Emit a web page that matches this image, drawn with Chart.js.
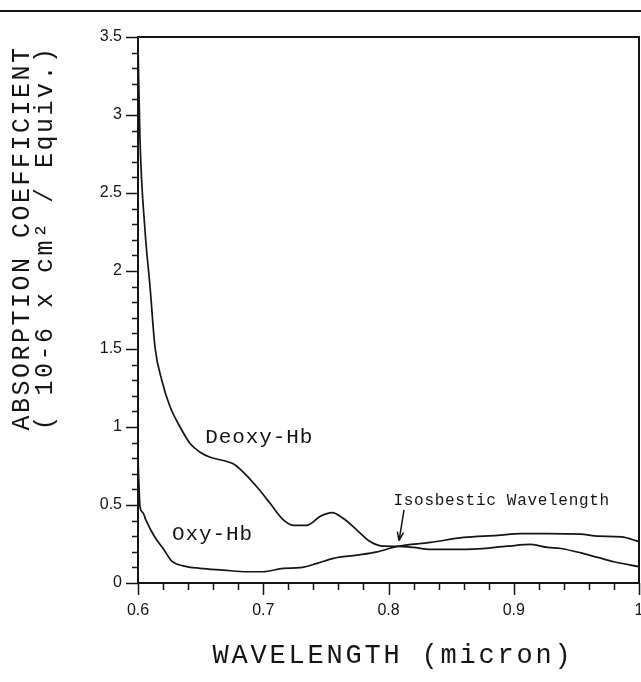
<!DOCTYPE html>
<html>
<head>
<meta charset="utf-8">
<script src="https://cdn.jsdelivr.net/npm/chart.js@4.4.1/dist/chart.umd.min.js"></script>
<style>
  html, body { margin: 0; padding: 0; background: #fff; overflow: hidden; width: 641px; height: 682px; }
  #wrap { position: relative; width: 680px; height: 682px; }
  canvas { display: block; }
</style>
</head>
<body>
<div id="wrap"><canvas id="c" width="680" height="682"></canvas></div>
<script>
// Absorption spectra of haemoglobin, 0.6 - 1.0 micron
const deoxyWavelength = [0.600, 0.6016, 0.6056, 0.6096, 0.6136, 0.619, 0.6256, 0.6336, 0.6416, 0.6496,
  0.6576, 0.668, 0.676, 0.684, 0.695, 0.7056, 0.715, 0.724, 0.735, 0.7456, 0.755, 0.764, 0.775,
  0.7856, 0.796, 0.807, 0.820, 0.8336, 0.868, 0.895, 0.9136, 0.927, 0.9376, 0.9536, 0.967, 0.980, 1.000];
const deoxyAbsorption = [3.45, 2.84, 2.26, 1.90, 1.51, 1.30, 1.13, 1.00, 0.894, 0.838,
  0.806, 0.785, 0.764, 0.711, 0.615, 0.509, 0.413, 0.370, 0.370, 0.428, 0.451, 0.413, 0.338,
  0.264, 0.236, 0.235, 0.228, 0.215, 0.217, 0.236, 0.247, 0.228, 0.221, 0.193, 0.164, 0.136, 0.105];

const oxyWavelength = [0.600, 0.6008, 0.6016, 0.604, 0.606, 0.613, 0.621, 0.627, 0.636, 0.6496,
  0.668, 0.687, 0.700, 0.716, 0.7296, 0.743, 0.756, 0.775, 0.791, 0.807, 0.8336, 0.860, 0.887,
  0.9056, 0.927, 0.9536, 0.967, 0.986, 1.000];
const oxyAbsorption = [0.80, 0.62, 0.49, 0.45, 0.41, 0.30, 0.21, 0.14, 0.11, 0.094,
  0.083, 0.072, 0.072, 0.094, 0.098, 0.126, 0.158, 0.179, 0.200, 0.235, 0.260, 0.292, 0.305,
  0.317, 0.317, 0.313, 0.300, 0.296, 0.265];

const xTicks = [0.6, 0.7, 0.8, 0.9, 1.0];
const xTickLabels = ['0.6', '0.7', '0.8', '0.9', '1'];
const yTicks = [0, 0.5, 1, 1.5, 2, 2.5, 3, 3.5];
const yTickLabels = ['0', '0.5', '1', '1.5', '2', '2.5', '3', '3.5'];

const toPoints = (xs, ys) => xs.map((x, i) => ({ x: x, y: ys[i] }));

const INK = '#151515';
const MONO = '"Liberation Mono", "DejaVu Sans Mono", monospace';

// Frame, minor/major ticks, curve labels and axis titles
const decorations = {
  id: 'decorations',
  afterDraw(chart) {
    const ctx = chart.ctx;
    const a = chart.chartArea;
    const xs = chart.scales.x, ys = chart.scales.y;
    ctx.save();
    ctx.strokeStyle = INK;
    ctx.fillStyle = INK;

    // rule across the top of the page
    ctx.lineWidth = 2;
    ctx.beginPath();
    ctx.moveTo(0, 11); ctx.lineTo(641, 11);
    ctx.stroke();

    // plot frame
    ctx.lineWidth = 2;
    ctx.strokeRect(a.left, a.top, a.right - a.left, a.bottom - a.top);

    // y ticks every 0.1, longer at labelled values
    ctx.lineWidth = 1.5;
    ctx.beginPath();
    for (let i = 0; i <= 35; i++) {
      const v = i / 10;
      const py = Math.round(ys.getPixelForValue(v)) + 0.5;
      const len = (i % 5 === 0) ? 12 : 6;
      ctx.moveTo(a.left - len, py); ctx.lineTo(a.left, py);
    }
    // x ticks every 0.02, longer at labelled values
    for (let i = 0; i <= 20; i++) {
      const v = 0.6 + i * 0.02;
      const px = Math.round(xs.getPixelForValue(v)) + 0.5;
      const len = (i % 5 === 0) ? 12 : 7;
      ctx.moveTo(px, a.bottom); ctx.lineTo(px, a.bottom + len);
    }
    ctx.stroke();

    // curve labels
    ctx.textAlign = 'left';
    ctx.textBaseline = 'alphabetic';
    ctx.font = '21px ' + MONO;
    ctx.letterSpacing = '0.9px';
    ctx.fillText('Deoxy-Hb', xs.getPixelForValue(0.6536), ys.getPixelForValue(0.897));
    ctx.fillText('Oxy-Hb', xs.getPixelForValue(0.6272), ys.getPixelForValue(0.276));

    ctx.font = '16px ' + MONO;
    ctx.letterSpacing = '0.7px';
    ctx.fillText('Isosbestic Wavelength', xs.getPixelForValue(0.804), ys.getPixelForValue(0.50));

    // arrow to the crossing point
    const tx = xs.getPixelForValue(0.8124), ty = ys.getPixelForValue(0.468);
    const hx = xs.getPixelForValue(0.8084), hy = ys.getPixelForValue(0.272);
    ctx.lineWidth = 1.5;
    ctx.beginPath();
    ctx.moveTo(tx, ty); ctx.lineTo(hx, hy);
    const ang = Math.atan2(hy - ty, hx - tx);
    const hl = 9;
    ctx.moveTo(hx, hy); ctx.lineTo(hx - hl * Math.cos(ang - 0.35), hy - hl * Math.sin(ang - 0.35));
    ctx.moveTo(hx, hy); ctx.lineTo(hx - hl * Math.cos(ang + 0.35), hy - hl * Math.sin(ang + 0.35));
    ctx.stroke();

    // x axis title
    ctx.font = '27px ' + MONO;
    ctx.letterSpacing = '2.8px';
    ctx.textAlign = 'center';
    ctx.fillText('WAVELENGTH (micron)', 393, 663);

    // y axis title, two rotated lines
    ctx.font = '25px ' + MONO;
    ctx.letterSpacing = '2.5px';
    const yLines = [['ABSORPTION COEFFICIENT', 29], ['( 10-6 x cm\u00B2 / Equiv.)', 52]];
    yLines.forEach(([txt, bx]) => {
      ctx.save();
      ctx.translate(bx, 238);
      ctx.rotate(-Math.PI / 2);
      ctx.fillText(txt, 0, 0);
      ctx.restore();
    });
    ctx.restore();
  }
};

new Chart(document.getElementById('c'), {
  type: 'line',
  data: {
    datasets: [
      {
        label: 'Deoxy-Hb',
        data: toPoints(deoxyWavelength, deoxyAbsorption),
        borderColor: INK, borderWidth: 1.7, pointRadius: 0, fill: false,
        cubicInterpolationMode: 'monotone'
      },
      {
        label: 'Oxy-Hb',
        data: toPoints(oxyWavelength, oxyAbsorption),
        borderColor: INK, borderWidth: 1.7, pointRadius: 0, fill: false,
        cubicInterpolationMode: 'monotone'
      }
    ]
  },
  options: {
    responsive: false,
    animation: false,
    devicePixelRatio: 1,
    layout: { padding: { left: 0, right: 41, top: 37, bottom: 0 } },
    plugins: { legend: { display: false }, tooltip: { enabled: false } },
    scales: {
      x: {
        type: 'linear', min: 0.6, max: 1.0,
        afterBuildTicks: s => { s.ticks = xTicks.map(v => ({ value: v })); },
        afterFit: s => { s.height = 99; },
        grid: { display: false, drawTicks: false },
        border: { display: false },
        ticks: {
          callback: (v, i) => xTickLabels[i],
          font: { family: '"Liberation Sans", Arial, sans-serif', size: 16 },
          color: INK, padding: 18, maxRotation: 0, autoSkip: false
        }
      },
      y: {
        type: 'linear', min: 0, max: 3.5,
        afterBuildTicks: s => { s.ticks = yTicks.map(v => ({ value: v })); },
        afterFit: s => { s.width = 138; },
        grid: { display: false, drawTicks: false },
        border: { display: false },
        ticks: {
          callback: (v, i) => yTickLabels[i],
          font: { family: '"Liberation Sans", Arial, sans-serif', size: 16 },
          color: INK, padding: 16, autoSkip: false
        }
      }
    }
  },
  plugins: [decorations]
});
</script>
</body>
</html>
